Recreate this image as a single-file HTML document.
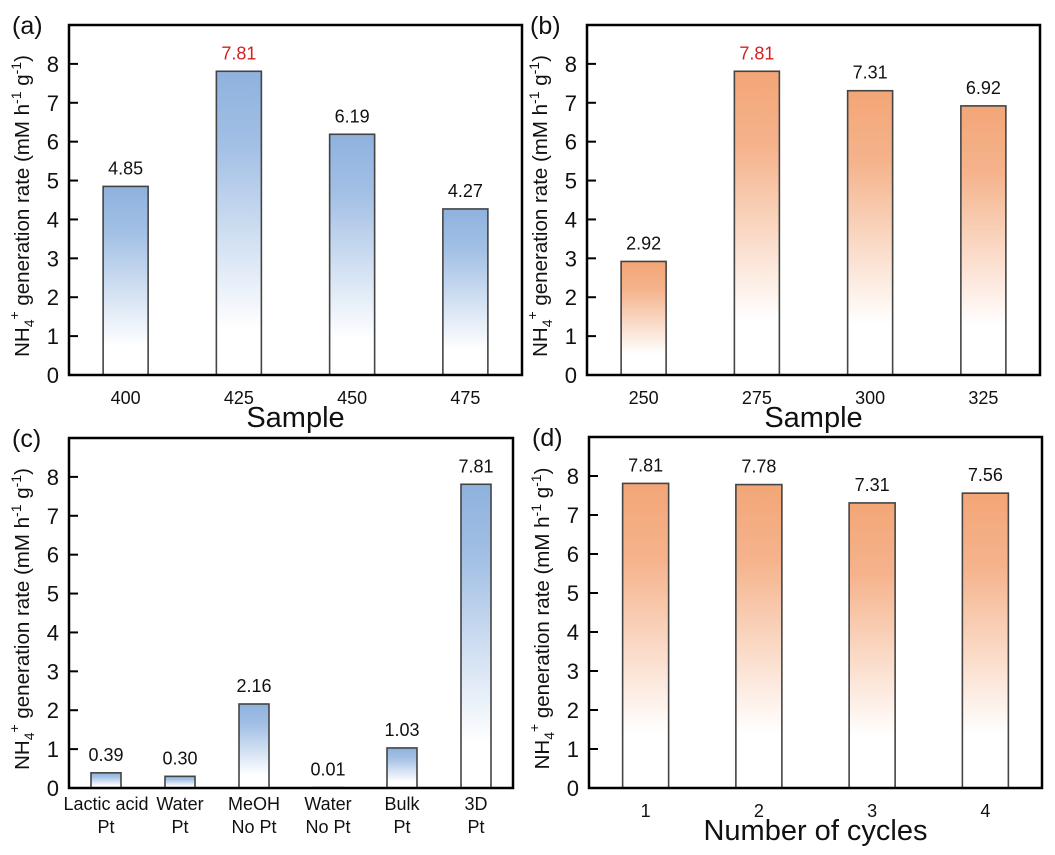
<!DOCTYPE html>
<html><head><meta charset="utf-8"><style>
html,body{margin:0;padding:0;background:#fff}
svg{display:block;font-family:"Liberation Sans",Arial,sans-serif}
</style></head><body>
<svg id="fig" width="1055" height="855" viewBox="0 0 1055 855">
<defs>
<linearGradient id="gBlue" x1="0" y1="0" x2="0" y2="1"><stop offset="0" stop-color="#8eb2de"/><stop offset="0.25" stop-color="#a3c0e5"/><stop offset="0.85" stop-color="#ffffff"/></linearGradient>
<linearGradient id="gOrange" x1="0" y1="0" x2="0" y2="1"><stop offset="0" stop-color="#f3a677"/><stop offset="0.25" stop-color="#f5b38c"/><stop offset="0.82" stop-color="#ffffff"/></linearGradient>
</defs>
</svg>
<script>
const catsA=["400","425","450","475"];
const valsA=[4.85,7.81,6.19,4.27];
const catsB=["250","275","300","325"];
const valsB=[2.92,7.81,7.31,6.92];
const catsC=[["Lactic acid","Pt"],["Water","Pt"],["MeOH","No Pt"],["Water","No Pt"],["Bulk","Pt"],["3D","Pt"]];
const valsC=[0.39,0.30,2.16,0.01,1.03,7.81];
const catsD=["1","2","3","4"];
const valsD=[7.81,7.78,7.31,7.56];
const yTicks=[0,1,2,3,4,5,6,7,8];
const yMax=9;

const svg=document.getElementById('fig');
const NS='http://www.w3.org/2000/svg';
function mk(tag,attrs,parent){const e=document.createElementNS(NS,tag);for(const k in attrs)e.setAttribute(k,attrs[k]);(parent||svg).appendChild(e);return e;}

function panel(o){
  const g=mk('g',{});
  
  
  const L=o.x0,R=o.x1,T=o.y0,B=o.y1;
  const y=v=>B-(v/yMax)*(B-T);
  const n=o.cats.length,step=(R-L)/n;
  const x=i=>L+(i+0.5)*step;
  o.vals.forEach((v,i)=>{
    const r=mk('rect',{x:x(i)-o.bw/2,y:y(v),width:o.bw,height:B-y(v),fill:o.grad,stroke:'#444','stroke-width':1.6},g);
    
    
    const t=mk('text',{x:x(i),y:y(v)-12,'text-anchor':'middle','font-size':18,fill:(o.red===i?'#d42020':'#111')},g);
    t.textContent=v.toFixed(2);
    
    
  });
  const f=mk('rect',{x:L,y:T,width:R-L,height:B-T,fill:'none',stroke:'#000','stroke-width':2.5},g);
  
  
  yTicks.forEach(v=>{
    mk('line',{x1:L,x2:L+9,y1:y(v),y2:y(v),stroke:'#000','stroke-width':2},g);
    const t=mk('text',{x:L-10,y:y(v)+8,'text-anchor':'end','font-size':22,fill:'#111'},g);
    t.textContent=v;
    
    
  });
  o.cats.forEach((c,i)=>{
    const lines=Array.isArray(c)?c:[c];
    lines.forEach((s,j)=>{
      const t=mk('text',{x:x(i),y:B+(Array.isArray(c)?22:29)+j*23,'text-anchor':'middle','font-size':18,fill:'#111'},g);
      t.textContent=s;
      
      
    });
  });
  if(o.xtitle){
    const t=mk('text',{x:(L+R)/2,y:B+52,'text-anchor':'middle','font-size':29,fill:'#111'},g);
    t.textContent=o.xtitle;
    
    
  }
  const yt=mk('text',{transform:`translate(${L-40},${(T+B)/2+6}) rotate(-90)`,'text-anchor':'middle','font-size':20.5,fill:'#111'},g);
  yt.innerHTML='NH<tspan dy="5" font-size="14">4</tspan><tspan dy="-15" font-size="14">+</tspan><tspan dy="10"> generation rate (mM h</tspan><tspan dy="-8" font-size="14">-1</tspan><tspan dy="8"> g</tspan><tspan dy="-8" font-size="14">-1</tspan><tspan dy="8">)</tspan>';
  
  
  const pl=mk('text',{x:L-57,y:T+9,'font-size':25,fill:'#111'},g);
  pl.textContent='('+o.id+')';
  
  
}
panel({id:'a',x0:69,x1:522,y0:25,y1:375,cats:catsA,vals:valsA,bw:45,grad:'url(#gBlue)',red:1,xtitle:'Sample'});
panel({id:'b',x0:587,x1:1040,y0:25,y1:375,cats:catsB,vals:valsB,bw:45,grad:'url(#gOrange)',red:1,xtitle:'Sample'});
panel({id:'c',x0:69,x1:513,y0:438,y1:788,cats:catsC,vals:valsC,bw:30,grad:'url(#gBlue)',red:-1,xtitle:''});
panel({id:'d',x0:589,x1:1042,y0:437,y1:788,cats:catsD,vals:valsD,bw:46,grad:'url(#gOrange)',red:-1,xtitle:'Number of cycles'});
</script>
</body></html>
